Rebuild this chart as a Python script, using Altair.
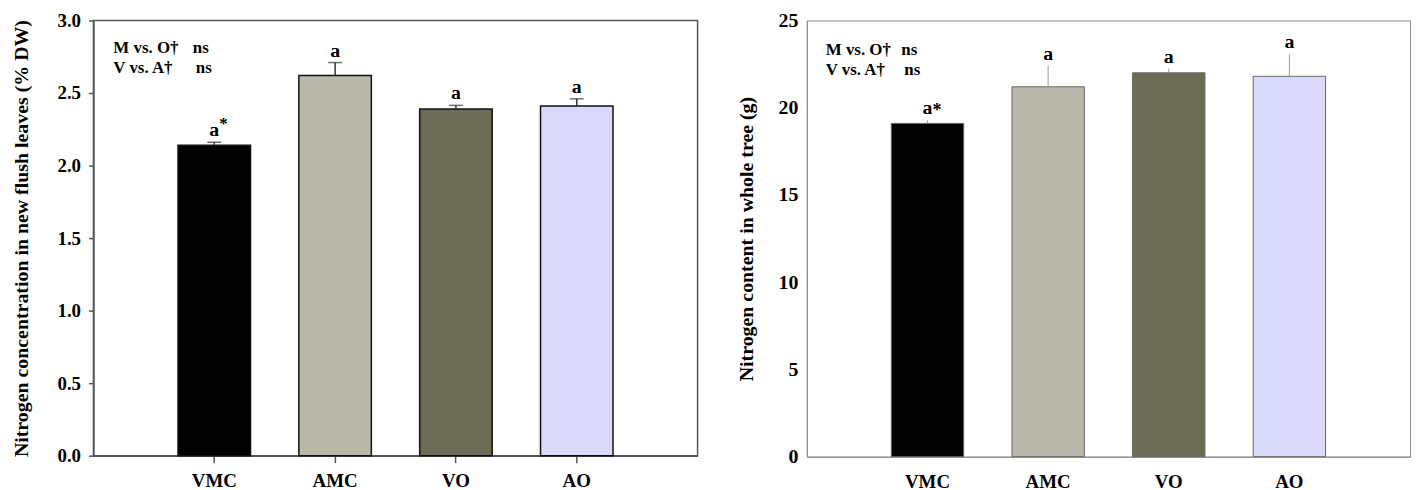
import altair as alt
import pandas as pd

# ---- data ----
categories = ["VMC", "AMC", "VO", "AO"]
bar_colors = ["#000000", "#b9b8aa", "#6b6b56", "#d9dafa"]

conc_mean = [2.14, 2.62, 2.39, 2.41]      # N concentration in new flush leaves (% DW)
conc_se = [0.02, 0.09, 0.025, 0.05]

content_mean = [19.1, 21.2, 22.0, 21.8]   # N content in whole tree (g)
content_se = [0.17, 1.22, 0.24, 1.26]

letters = ["a", "a", "a", "a"]
stars = ["*", "", "", ""]

left_ticks = [0.0, 0.5, 1.0, 1.5, 2.0, 2.5, 3.0]
right_ticks = [0, 5, 10, 15, 20, 25]

anno_labels = ["M vs. O\u2020", "V vs. A\u2020"]
anno_results = ["ns", "ns"]

FONT = "Liberation Serif"


def make_df(means, ses):
    return pd.DataFrame({
        "cat": categories,
        "mean": means,
        "top": [m + s for m, s in zip(means, ses)],
        "letter": letters,
        "star": stars,
    })


def panel(means, ses, ymax, ticks, fmt, title, frame_color, frame_w,
          bar_stroke, bar_stroke_w, err_color, cap, ytick, xtick, xlabpad,
          label_size, title_size, title_pad, star_dx, star_dy, star_size, w, h,
          anno_x, anno_ns_x, anno_y):
    df = make_df(means, ses)
    x = alt.X("cat:N", sort=categories, title=None,
              scale=alt.Scale(paddingInner=0.4, paddingOuter=0.7),
              axis=alt.Axis(labelAngle=0, labelFont=FONT, labelFontWeight="bold",
                            labelFontSize=19, labelColor="black",
                            tickSize=xtick, tickColor=frame_color, tickWidth=frame_w,
                            ticks=xtick > 0,
                            labelPadding=xlabpad,
                            domainColor=frame_color, domainWidth=frame_w))
    y_scale = alt.Scale(domain=[0, ymax], nice=False)
    y_axis = alt.Axis(values=ticks, format=fmt, grid=False,
                      labelFont=FONT, labelFontWeight="bold", labelFontSize=label_size,
                      labelColor="black", tickSize=ytick, ticks=ytick > 0,
                      tickColor=frame_color, tickWidth=frame_w,
                      labelPadding=8 if ytick > 0 else 9,
                      domainColor=frame_color, domainWidth=frame_w,
                      title=title, titleFont=FONT, titleFontWeight="bold",
                      titleFontSize=title_size, titleColor="black",
                      titlePadding=title_pad)

    bars = alt.Chart(df).mark_bar(stroke=bar_stroke, strokeWidth=bar_stroke_w).encode(
        x=x,
        y=alt.Y("mean:Q", scale=y_scale, axis=y_axis),
        color=alt.Color("cat:N", scale=alt.Scale(domain=categories, range=bar_colors),
                        legend=None),
    )
    err = alt.Chart(df).mark_rule(color=err_color, strokeWidth=frame_w).encode(
        x=alt.X("cat:N", sort=categories),
        y=alt.Y("mean:Q"),
        y2="top:Q",
    )
    layers = [bars, err]
    if cap:
        caps = alt.Chart(df).mark_tick(color=err_color, thickness=1.5, size=14).encode(
            x=alt.X("cat:N", sort=categories),
            y=alt.Y("top:Q"),
        )
        layers.append(caps)
    lett = alt.Chart(df).mark_text(font=FONT, fontWeight="bold", fontSize=20,
                                   baseline="bottom", dy=-2, color="black").encode(
        x=alt.X("cat:N", sort=categories),
        y=alt.Y("top:Q"),
        text="letter:N",
    )
    star = alt.Chart(df).mark_text(font=FONT, fontWeight="bold", fontSize=star_size,
                                   baseline="bottom", align="left",
                                   dx=star_dx, dy=star_dy, color="black").encode(
        x=alt.X("cat:N", sort=categories),
        y=alt.Y("top:Q"),
        text="star:N",
    )
    layers += [lett, star]
    for i, (lab, res) in enumerate(zip(anno_labels, anno_results)):
        yy = anno_y + i * 20
        layers.append(alt.Chart(pd.DataFrame({"t": [lab]})).mark_text(
            font=FONT, fontWeight="bold", fontSize=17, align="left",
            baseline="middle", color="black").encode(
            text="t:N", x=alt.value(anno_x), y=alt.value(yy)))
        layers.append(alt.Chart(pd.DataFrame({"t": [res]})).mark_text(
            font=FONT, fontWeight="bold", fontSize=17, align="left",
            baseline="middle", color="black").encode(
            text="t:N", x=alt.value(anno_ns_x + i * 3), y=alt.value(yy)))

    return alt.layer(*layers).properties(
        width=w, height=h,
        view=alt.ViewBackground(stroke=frame_color, strokeWidth=frame_w),
    )


left = panel(conc_mean, conc_se, 3.0, left_ticks, ".1f",
             "Nitrogen concentration in new flush leaves (% DW)",
             "#555555", 1.5, "#111111", 1.5, "#333333", True, 5, 7, 9,
             19, 20, 26, 5, -9, 17, 608, 438, 20, 100, 28)

right = panel(content_mean, content_se, 25, right_ticks, "d",
              "Nitrogen content in whole tree (g)",
              "#8a8a8a", 1, "#666666", 1, "#9a9a9a", False, 0, 0, 16,
              20, 20, 22, 5, 0, 18, 607, 439, 19, 95, 30)

chart = alt.hconcat(left, right, spacing=37).properties(
    padding={"left": 2, "top": 0, "right": 0, "bottom": 0}
).configure(background="white")

chart.save("out.html", embed_options={"renderer": "svg", "actions": False})
